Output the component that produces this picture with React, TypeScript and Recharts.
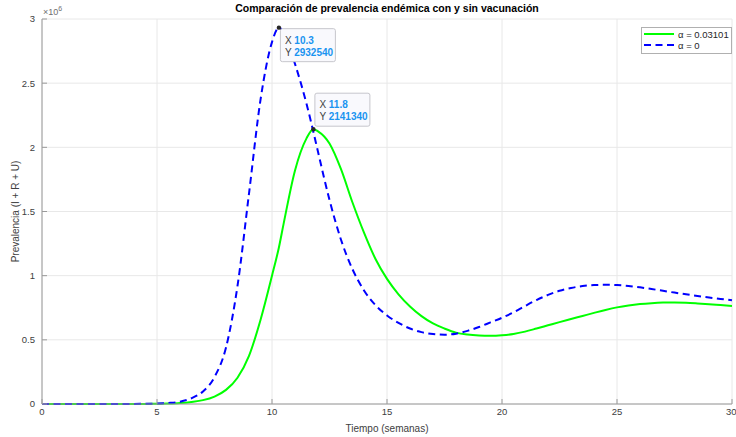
import React from "react";
import {
  LineChart,
  Line,
  XAxis,
  YAxis,
  CartesianGrid,
  ReferenceDot,
} from "recharts";

// semanas
const weeks = [
  0, 0.5, 1, 1.5, 2, 2.5, 3, 3.5, 4, 4.5, 5, 5.5, 6, 6.5, 7, 7.5, 8, 8.5, 9,
  9.5, 10, 10.3, 10.5, 11, 11.5, 11.8, 12, 12.5, 13, 13.5, 14, 14.5, 15, 15.5,
  16, 16.5, 17, 17.5, 18, 18.5, 19, 19.5, 20, 20.5, 21, 21.5, 22, 22.5, 23,
  23.5, 24, 24.5, 25, 25.5, 26, 26.5, 27, 27.5, 28, 28.5, 29, 29.5, 30,
];

// prevalencia con vacunación (alpha = 0.03101)
const prevVacuna = [
  0, 0, 0, 0, 0, 0, 100, 200, 400, 800, 1500, 3000, 7000, 16000, 30000, 58000,
  110000, 205000, 375000, 655000, 1000000, 1220000, 1400000, 1820000, 2070000,
  2141340, 2125000, 2030000, 1830000, 1570000, 1335000, 1130000, 975000,
  855000, 760000, 685000, 628000, 588000, 556000, 541000, 534000, 532000,
  536000, 546000, 564000, 588000, 613000, 638000, 662000, 686000, 710000,
  733000, 753000, 768000, 779000, 786000, 790000, 791000, 789000, 784000,
  778000, 771000, 764000,
];

// prevalencia sin vacunación (alpha = 0)
const prevSinVacuna = [
  0, 0, 0, 0, 0, 100, 200, 400, 800, 1600, 3500, 8000, 18000, 45000, 98000,
  210000, 440000, 920000, 1640000, 2370000, 2820000, 2932540, 2900000, 2650000,
  2340000, 2120000, 1965000, 1590000, 1280000, 1050000, 885000, 770000, 690000,
  632000, 588000, 560000, 545000, 540000, 548000, 570000, 600000, 636000,
  672000, 714000, 763000, 810000, 850000, 882000, 904000, 919000, 927000,
  929000, 927000, 920000, 909000, 896000, 882000, 868000, 855000, 842000,
  830000, 819000, 808000,
];

const xTicks = [0, 5, 10, 15, 20, 25, 30];
const yTicks = [0, 500000, 1000000, 1500000, 2000000, 2500000, 3000000];

const seriesNames = ["α = 0.03101", "α = 0"];

// puntos marcados con datatip
const tips = [
  { x: 10.3, y: 2932540, above: false },
  { x: 11.8, y: 2141340, above: true },
];

const rows = weeks.map((t, i) => ({
  t,
  vac: prevVacuna[i],
  sin: prevSinVacuna[i],
}));

const FONT = '"Liberation Sans", Arial, Helvetica, sans-serif';
const AXIS = "#9a9a9a";
const TEXT = "#404040";
const GREEN = "#00ff00";
const BLUE = "#0000ff";
const DASH = "7 4.5";

const DataTip = (props: any) => {
  const { cx, cy, tx, ty, above } = props;
  const w = 55;
  const h = 33;
  const bx = cx + 1.5;
  const by = above ? cy - h - 3 : cy + 1;
  return (
    <g>
      <rect
        x={bx}
        y={by}
        width={w}
        height={h}
        rx={2}
        fill="#f9f9fd"
        stroke="#c6c6cc"
        strokeWidth={1}
      />
      <circle cx={cx} cy={cy} r={2.2} fill="#262626" />
      <text x={bx + 4.5} y={by + 15} fontSize={10} fontFamily={FONT}>
        <tspan fill="#404040">X </tspan>
        <tspan fill="#1a94f0" fontWeight="bold">
          {tx}
        </tspan>
      </text>
      <text x={bx + 4.5} y={by + 27} fontSize={10} fontFamily={FONT}>
        <tspan fill="#404040">Y </tspan>
        <tspan fill="#1a94f0" fontWeight="bold">
          {ty}
        </tspan>
      </text>
    </g>
  );
};

// leyenda en la esquina superior derecha
const LegendBox = () => (
  <svg width={91} height={27} style={{ display: "block" }}>
    <rect x={0.5} y={0.5} width={90} height={26} fill="#fff" stroke="#b0b0b0" />
    <line x1={3} x2={33} y1={7} y2={7} stroke={GREEN} strokeWidth={2} />
    <text x={37} y={10.5} fontSize={9.5} fontFamily={FONT} fill="#262626">
      {seriesNames[0]}
    </text>
    <line
      x1={3}
      x2={33}
      y1={18}
      y2={18}
      stroke={BLUE}
      strokeWidth={2}
      strokeDasharray={DASH}
    />
    <text x={37} y={21.5} fontSize={9.5} fontFamily={FONT} fill="#262626">
      {seriesNames[1]}
    </text>
  </svg>
);

const YLabel = (props: any) => {
  const { viewBox } = props;
  const cx = 15;
  const cy = viewBox.y + viewBox.height / 2;
  return (
    <text
      x={cx}
      y={cy}
      transform={`rotate(-90 ${cx} ${cy})`}
      textAnchor="middle"
      dominantBaseline="central"
      fontSize={10}
      fontFamily={FONT}
      fill={TEXT}
    >
      Prevalencia (I + R + U)
    </text>
  );
};

export default function App() {
  return (
    <div
      style={{
        position: "absolute",
        left: 0,
        top: 0,
        width: 736,
        height: 437,
        background: "#fff",
        fontFamily: FONT,
      }}
    >
      <LineChart
        width={736}
        height={437}
        data={rows}
        margin={{ top: 19, right: 4, left: 0, bottom: 0 }}
      >
        <CartesianGrid stroke="#e8e8e8" strokeWidth={1} />
        <XAxis
          dataKey="t"
          type="number"
          domain={[0, 30]}
          ticks={xTicks}
          height={33}
          stroke={AXIS}
          tickSize={-5}
          tickMargin={9}
          tick={{ fontSize: 9.5, fill: TEXT, fontFamily: FONT }}
          label={{
            value: "Tiempo (semanas)",
            position: "insideBottom",
            offset: 5,
            fontSize: 10,
            fill: TEXT,
            fontFamily: FONT,
          }}
        />
        <XAxis
          xAxisId="top"
          orientation="top"
          dataKey="t"
          type="number"
          domain={[0, 30]}
          ticks={xTicks}
          height={0}
          stroke={AXIS}
          tickSize={-5}
          tick={false}
        />
        <YAxis
          type="number"
          domain={[0, 3000000]}
          ticks={yTicks}
          width={42}
          stroke={AXIS}
          tickSize={-5}
          tickMargin={12}
          tickFormatter={(v: number) => String(v / 1000000)}
          tick={{ fontSize: 9.5, fill: TEXT, fontFamily: FONT }}
          label={<YLabel />}
        />
        <YAxis
          yAxisId="right"
          orientation="right"
          type="number"
          domain={[0, 3000000]}
          ticks={yTicks}
          width={0}
          stroke={AXIS}
          tickSize={-5}
          tick={false}
        />
        <Line
          type="monotone"
          dataKey="vac"
          name={seriesNames[0]}
          stroke={GREEN}
          strokeWidth={2}
          dot={false}
          isAnimationActive={false}
        />
        <Line
          type="monotone"
          dataKey="sin"
          name={seriesNames[1]}
          stroke={BLUE}
          strokeWidth={2}
          strokeDasharray={DASH}
          dot={false}
          isAnimationActive={false}
        />
        {tips.map((p) => (
          <ReferenceDot
            key={p.x}
            x={p.x}
            y={p.y}
            r={2}
            shape={(s: any) => (
              <DataTip
                cx={s.cx}
                cy={s.cy}
                tx={p.x}
                ty={p.y}
                above={p.above}
              />
            )}
          />
        ))}
      </LineChart>
      <div
        style={{
          position: "absolute",
          left: 42,
          width: 690,
          top: 2,
          textAlign: "center",
          fontSize: 10.5,
          fontWeight: "bold",
          color: "#000",
        }}
      >
        Comparación de prevalencia endémica con y sin vacunación
      </div>
      <div
        style={{
          position: "absolute",
          left: 43,
          top: 6,
          fontSize: 9,
          color: "#707070",
          lineHeight: "12px",
        }}
      >
        ×10
        <sup
          style={{
            fontSize: 7,
            verticalAlign: "top",
            position: "relative",
            top: -3,
          }}
        >
          6
        </sup>
      </div>
      <div style={{ position: "absolute", left: 641, top: 27 }}>
        <LegendBox />
      </div>
    </div>
  );
}
